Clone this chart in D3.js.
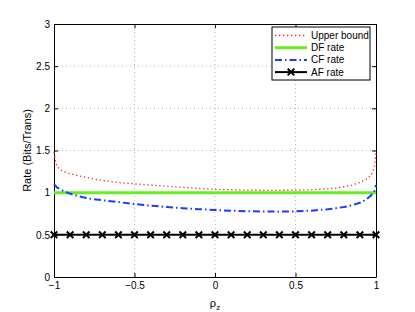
<!DOCTYPE html>
<html>
<head>
<meta charset="utf-8">
<script src="https://cdn.jsdelivr.net/npm/d3@7"></script>
<style>
  body { margin: 0; background: #fff; }
  text { font-family: "Liberation Sans", Arial, sans-serif; }
</style>
</head>
<body>
<div id="chart"></div>
<script>
// values
var rho = [-1, -0.99, -0.98, -0.96, -0.94, -0.91, -0.87, -0.82, -0.76, -0.7, -0.6, -0.5, -0.4, -0.3, -0.2, -0.1,
    0, 0.1, 0.2, 0.3, 0.4, 0.5, 0.6, 0.7, 0.75, 0.8, 0.85, 0.9, 0.94, 0.97, 0.99, 1];
var upperBound = [1.48, 1.36, 1.31, 1.27, 1.25, 1.23, 1.21, 1.19, 1.165, 1.145, 1.12, 1.105, 1.09, 1.075, 1.063, 1.05,
    1.04, 1.035, 1.03, 1.028, 1.028, 1.03, 1.035, 1.045, 1.055, 1.07, 1.09, 1.12, 1.16, 1.21, 1.3, 1.48];
var dfRate = [1, 1, 1, 1, 1, 1, 1, 1, 1, 1, 1, 1, 1, 1, 1, 1,
    1, 1, 1, 1, 1, 1, 1, 1, 1, 1, 1, 1, 1, 1, 1, 1];
var cfRate = [1.10, 1.08, 1.06, 1.04, 1.02, 0.995, 0.97, 0.945, 0.925, 0.91, 0.888, 0.866, 0.846, 0.83, 0.815, 0.804,
    0.794, 0.786, 0.78, 0.776, 0.775, 0.778, 0.787, 0.803, 0.815, 0.83, 0.85, 0.88, 0.92, 0.97, 1.02, 1.09];
var afRho = [-1, -0.9, -0.8, -0.7, -0.6, -0.5, -0.4, -0.3, -0.2, -0.1, 0, 0.1, 0.2, 0.3, 0.4, 0.5, 0.6, 0.7, 0.8, 0.9, 1];
var afRate = [0.5, 0.5, 0.5, 0.5, 0.5, 0.5, 0.5, 0.5, 0.5, 0.5, 0.5, 0.5, 0.5, 0.5, 0.5, 0.5, 0.5, 0.5, 0.5, 0.5, 0.5];
var xTicks = [-1, -0.5, 0, 0.5, 1];
var yTicks = [0, 0.5, 1, 1.5, 2, 2.5, 3];
var legendNames = ["Upper bound", "DF rate", "CF rate", "AF rate"];

var margin = { top: 24, right: 39, bottom: 35, left: 54 },
    width = 415 - margin.left - margin.right,
    height = 312 - margin.top - margin.bottom;

var svg = d3.select("#chart")
    .append("svg")
    .attr("width", 415)
    .attr("height", 312)
    .append("g")
    .attr("transform", "translate(" + margin.left + "," + margin.top + ")");

var x = d3.scaleLinear().domain([-1, 1]).range([0, width]);
var y = d3.scaleLinear().domain([0, 3]).range([height, 0]);

// grid
svg.append("g").selectAll("line").data(xTicks.slice(1, -1)).enter().append("line")
    .attr("x1", function (d) { return x(d) }).attr("x2", function (d) { return x(d) })
    .attr("y1", 0).attr("y2", height)
    .attr("stroke", "#b0b0b0").attr("stroke-width", 1).attr("stroke-dasharray", "1,3");
svg.append("g").selectAll("line").data(yTicks.slice(1, -1)).enter().append("line")
    .attr("y1", function (d) { return y(d) }).attr("y2", function (d) { return y(d) })
    .attr("x1", 0).attr("x2", width)
    .attr("stroke", "#b0b0b0").attr("stroke-width", 1).attr("stroke-dasharray", "1,3");

// axes
var fmt = function (d) { return String(d).replace("-", "\u2212") };
var xAxis = svg.append("g")
    .attr("transform", "translate(0," + height + ")")
    .call(d3.axisBottom(x).tickValues(xTicks).tickSizeInner(-4).tickSizeOuter(0).tickPadding(5).tickFormat(fmt));
var yAxis = svg.append("g")
    .call(d3.axisLeft(y).tickValues(yTicks).tickSizeInner(-4).tickSizeOuter(0).tickPadding(4).tickFormat(fmt));
svg.append("g").attr("transform", "translate(0,0)")
    .call(d3.axisTop(x).tickValues(xTicks).tickSizeInner(-4).tickSizeOuter(0).tickFormat(""));
svg.append("g").attr("transform", "translate(" + width + ",0)")
    .call(d3.axisRight(y).tickValues(yTicks).tickSizeInner(-4).tickSizeOuter(0).tickFormat(""));
svg.selectAll(".domain").attr("stroke", "#000");
svg.selectAll(".tick line").attr("stroke", "#000");
svg.selectAll(".tick text").attr("font-size", 10).attr("fill", "#000")
    .attr("font-family", "Liberation Sans, Arial, sans-serif");

// axis labels
svg.append("text")
    .attr("transform", "translate(" + (-27) + "," + (height / 2) + ") rotate(-90)")
    .attr("text-anchor", "middle").attr("dy", "0.35em")
    .attr("font-size", 11).text("Rate (Bits/Trans)");
var xl = svg.append("text")
    .attr("x", x(0)).attr("y", height + 30)
    .attr("text-anchor", "middle").attr("font-size", 11);
xl.append("tspan").text("\u03c1");
xl.append("tspan").attr("font-size", 8).attr("dy", 3).text("z");

// series
var line = function (ys) {
    return d3.line()
        .x(function (d, i) { return x(rho[i]) })
        .y(function (d) { return y(d) })(ys);
};
svg.append("path").attr("d", line(upperBound))
    .attr("fill", "none").attr("stroke", "#ff2020").attr("stroke-width", 1.3)
    .attr("stroke-dasharray", "1.3,2.7");
svg.append("path").attr("d", line(dfRate))
    .attr("fill", "none").attr("stroke", "#66ee22").attr("stroke-width", 3);
svg.append("path").attr("d", line(cfRate))
    .attr("fill", "none").attr("stroke", "#1a3cff").attr("stroke-width", 2)
    .attr("stroke-dasharray", "7,3,1.5,3");

svg.append("path")
    .attr("d", d3.line().x(function (d, i) { return x(afRho[i]) }).y(function (d) { return y(d) })(afRate))
    .attr("fill", "none").attr("stroke", "#000").attr("stroke-width", 2);
svg.append("g").selectAll("path").data(afRate).enter().append("path")
    .attr("d", d3.symbol().type(d3.symbolX).size(30))
    .attr("transform", function (d, i) { return "translate(" + x(afRho[i]) + "," + y(d) + ")" })
    .attr("fill", "none").attr("stroke", "#000").attr("stroke-width", 2);

// legend
var lg = svg.append("g").attr("transform", "translate(218,3)");
lg.append("rect").attr("width", 98).attr("height", 53)
    .attr("fill", "#fff").attr("stroke", "#000").attr("stroke-width", 1);
var styles = [
    { c: "#ff2020", w: 1.3, da: "1.3,2.7" },
    { c: "#66ee22", w: 3, da: null },
    { c: "#1a3cff", w: 2, da: "7,3,1.5,3" },
    { c: "#000", w: 2, da: null }
];
legendNames.forEach(function (name, i) {
    var yy = 8.5 + i * 12.2;
    lg.append("line").attr("x1", 3).attr("x2", 35).attr("y1", yy).attr("y2", yy)
        .attr("stroke", styles[i].c).attr("stroke-width", styles[i].w)
        .attr("stroke-dasharray", styles[i].da);
    if (i === 3) {
        lg.append("path").attr("d", d3.symbol().type(d3.symbolX).size(30))
            .attr("transform", "translate(19," + yy + ")")
            .attr("fill", "none").attr("stroke", "#000").attr("stroke-width", 2);
    }
    lg.append("text").attr("x", 39).attr("y", yy).attr("dy", "0.35em")
        .attr("font-size", 10).text(name);
});
</script>
</body>
</html>
